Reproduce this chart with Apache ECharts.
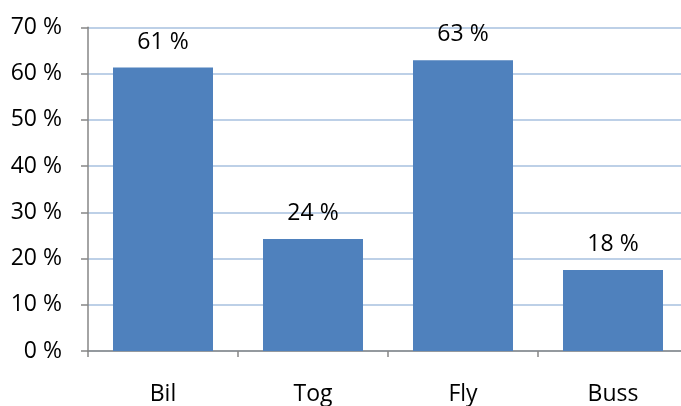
<!DOCTYPE html>
<html>
<head>
<meta charset="utf-8">
<script src="https://cdn.jsdelivr.net/npm/echarts@6/dist/echarts.min.js"></script>
<style>
  html, body { margin: 0; padding: 0; background: #ffffff; overflow: hidden; }
  /* the plot area runs a few pixels past the right edge of the window */
  #chart { width: 688px; height: 406px; }
</style>
</head>
<body>
<div id="chart"></div>
<script>
// Share of travel by mode of transport (percent)
const categories = ['Bil', 'Tog', 'Fly', 'Buss'];
const shares = [61.3, 24.2, 62.9, 17.5];
const yTicks = [0, 10, 20, 30, 40, 50, 60, 70];

const font = '"Open Sans", "Noto Sans", sans-serif';
const chart = echarts.init(document.getElementById('chart'));

chart.setOption({
  animation: false,
  grid: { left: 88, top: 27.3, right: 0, bottom: 54.7, containLabel: false },
  xAxis: {
    type: 'category',
    data: categories,
    boundaryGap: true,
    axisLine: { lineStyle: { color: '#868686', width: 1.5 } },
    axisTick: { show: true, length: 6, lineStyle: { color: '#868686', width: 1.5 } },
    axisLabel: { margin: 32, fontSize: 23, color: '#000', fontFamily: font, verticalAlign: 'top' }
  },
  yAxis: {
    type: 'value',
    min: yTicks[0],
    max: yTicks[yTicks.length - 1],
    interval: 10,
    axisLine: { show: true, lineStyle: { color: '#868686', width: 1.5 } },
    axisTick: { show: true, length: 7, lineStyle: { color: '#868686', width: 1.5 } },
    axisLabel: {
      margin: 26, fontSize: 23, color: '#000', fontFamily: font,
      formatter: v => v + ' %'
    },
    splitLine: { show: true, lineStyle: { color: '#a7c0df', width: 1.5 } }
  },
  series: [{
    type: 'bar',
    data: shares,
    barWidth: 100,
    itemStyle: { color: '#4f81bd' },
    label: {
      show: true,
      position: 'top',
      distance: 14,
      fontSize: 23,
      color: '#000',
      fontFamily: font,
      formatter: p => Math.round(p.value) + ' %'
    }
  }]
});
</script>
</body>
</html>
